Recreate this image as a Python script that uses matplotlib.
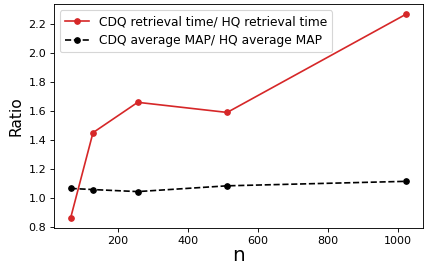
import matplotlib
matplotlib.use("Agg")
import matplotlib.pyplot as plt

n = [64, 128, 256, 512, 1024]
time_ratio = [0.86, 1.45, 1.66, 1.59, 2.27]
map_ratio = [1.064, 1.056, 1.042, 1.082, 1.113]

fig, ax = plt.subplots(figsize=(431 / 80, 268 / 80), dpi=80)
fig.subplots_adjust(left=0.125, right=0.981, top=0.985, bottom=0.149)

ax.plot(n, time_ratio, color="tab:red", marker="o", markersize=5, linewidth=1.5,
        label="CDQ retrieval time/ HQ retrieval time")
ax.plot(n, map_ratio, color="black", marker="o", markersize=5, linewidth=1.5,
        linestyle="--", label="CDQ average MAP/ HQ average MAP")

ax.set_xlabel("n", fontsize=18, labelpad=0)
ax.set_ylabel("Ratio", fontsize=14)
ax.tick_params(labelsize=10)
ax.legend(loc="upper left", fontsize=11)

fig.savefig("out.png")
